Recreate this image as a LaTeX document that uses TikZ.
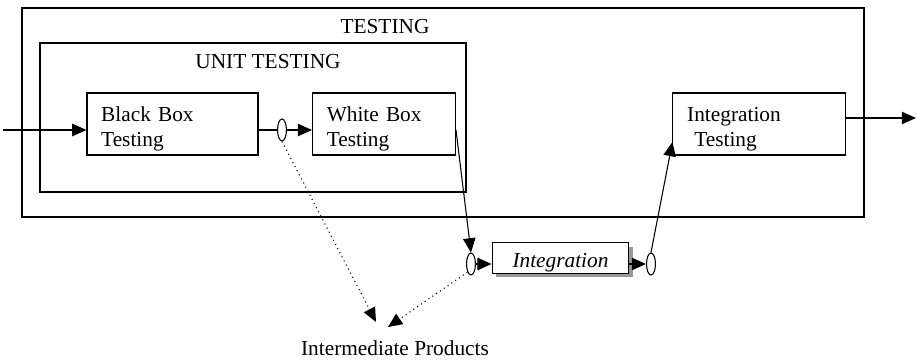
\documentclass[tikz,border=0pt]{standalone}
\usepackage{fontspec}
\setmainfont{Liberation Serif}
\usepackage{tikz}
\usetikzlibrary{shapes.geometric, arrows.meta, positioning, calc, shadows}

\newcommand{\tallstrut}{\rule{0pt}{13.5pt}}

\begin{document}
\begin{tikzpicture}[
    x=0.5625pt, y=-0.5625pt,
    every node/.style={font=\fontsize{12}{14}\selectfont},
    frame/.style={draw, line width=0.6pt},
    task/.style={draw, line width=0.6pt, minimum height=34.9pt, inner xsep=8pt, inner ysep=0pt, align=left, fill=white},
    port/.style={draw, ellipse, line width=0.6pt, minimum width=5pt, minimum height=12.4pt, inner sep=0pt, fill=white},
    arrow/.style={-{Triangle[length=8pt, width=7pt]}, line width=0.6pt},
    flow/.style={-{Triangle[length=8pt, width=7pt]}, line width=0.6pt, dotted}
]
    \useasboundingbox (0,0) rectangle (918,361);

    % Frames
    \draw[frame] (22,8) rectangle (864,217);
    \node (testing) at (385,27) {TESTING};
    \draw[frame] (40,43) rectangle (466,192);
    \node (unit) at (268,62) {UNIT TESTING};

    % Tasks
    \node[task, text width=80.2pt] (bb) at (172.5,124) {\tallstrut Black Box\\Testing};
    \node[task, text width=64.4pt] (wb) at (384,124) {\tallstrut White Box\\Testing};
    \node[task, text width=80.8pt] (it) at (759,124) {\tallstrut Integration\\\hphantom{I}Testing};
    \node[task, minimum width=77pt, minimum height=17pt, inner xsep=0pt,
          font=\fontsize{12}{14}\selectfont\itshape,
          drop shadow={shadow xshift=2.2pt, shadow yshift=-2.2pt, fill=gray!80, opacity=1}]
          (integ) at (560.5,258) {\rule{0pt}{13pt}Integration};

    % Ports
    \node[port] (p1) at (282,130) {};
    \node[port] (p2) at (471,264) {};
    \node[port] (p3) at (651,264) {};

    % Products
    \node (ip) at (395,348) {Intermediate Products};
    \coordinate (in) at (3,130);
    \coordinate (out) at (916,118);
    \coordinate (ip1) at (376,322);
    \coordinate (ip2) at (388,327);

    % Arrows
    \draw[arrow] (in) -- (in -| bb.west);
    \draw[line width=0.6pt] (bb.east |- p1) -- (p1);
    \draw[arrow] (p1) -- (p1 -| wb.west);
    \draw[arrow] (wb.east |- p1) -- (p2.north);
    \draw[arrow] (p2) -- (p2 -| integ.west);
    \draw[arrow] (p2 -| integ.east) -- (p3);
    \draw[arrow] (p3.north) -- ($(it.west)+(0,18)$);
    \draw[arrow] (it.east |- out) -- (out);
    \draw[flow] (p1.south) -- (ip1);
    \draw[flow] (p2.south west) -- (ip2);
\end{tikzpicture}
\end{document}
